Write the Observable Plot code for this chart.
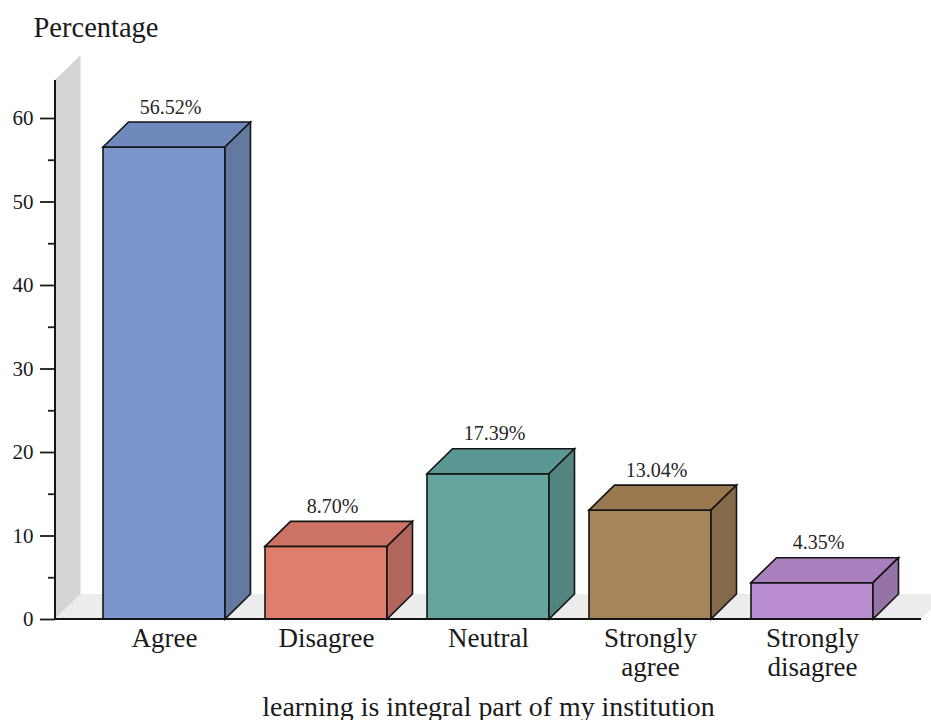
<!DOCTYPE html>
<html>
<head>
<meta charset="utf-8">
<script src="https://cdn.jsdelivr.net/npm/d3@7"></script>
<script src="https://cdn.jsdelivr.net/npm/@observablehq/plot@0.6"></script>
<style>
  html, body { margin: 0; padding: 0; background: #fff; }
  svg { display: block; }
</style>
</head>
<body>
<div id="chart"></div>
<script>
// Survey responses: "learning is integral part of my institution"
const categories = ["Agree", "Disagree", "Neutral", "Strongly agree", "Strongly disagree"];
const percentages = [56.52, 8.70, 17.39, 13.04, 4.35];
const valueLabels = ["56.52%", "8.70%", "17.39%", "13.04%", "4.35%"];
const yTicks = [0, 10, 20, 30, 40, 50, 60];
const yMinorTicks = [5, 15, 25, 35, 45, 55];
const yMax = 64.55;

// Face colours of each box: front, top, side
const frontColors = ["#7b96cb", "#e07e6e", "#66a59e", "#a8845a", "#b98bd0"];
const topColors   = ["#6f89bd", "#cc7366", "#5c9893", "#9a7850", "#a97fbe"];
const sideColors  = ["#64799f", "#b3665b", "#52857f", "#846a4a", "#9573a7"];

const rows = categories.map((category, i) => ({
  category,
  value: percentages[i],
  label: valueLabels[i],
  i
}));

// Depth offset of the pseudo-3D boxes, walls and floor (pixels)
const DX = 25.5, DY = -25;
const EDGE = "#141414";

const poly = (pts) => "M" + pts.map(p => p.join(",")).join("L") + "Z";

// Back wall and floor behind the bars
function backdrop(index, scales, values, dims) {
  const {y} = scales;
  const left = dims.marginLeft, right = dims.width - dims.marginRight;
  const y0 = y(0), yTop = y(yMax);
  const g = d3.create("svg:g");
  g.append("path")
    .attr("d", poly([[left, yTop], [left + DX, yTop + DY], [left + DX, y0 + DY], [left, y0]]))
    .attr("fill", "#d4d4d4");
  g.append("path")
    .attr("d", poly([[left, y0], [left + DX, y0 + DY], [right + DX, y0 + DY], [right, y0]]))
    .attr("fill", "#ececec");
  return g.node();
}

// Axis line and baseline drawn over the bars' bottom edges
function axisLines(index, scales, values, dims) {
  const {y} = scales;
  const left = dims.marginLeft, right = dims.width - dims.marginRight;
  const y0 = y(0), yTop = y(yMax);
  const g = d3.create("svg:g").attr("stroke", EDGE).attr("stroke-width", 2).attr("fill", "none");
  g.append("path").attr("d", `M${left},${yTop}V${y0}`);
  g.append("path").attr("d", `M${left},${y0}H${right}`);
  return g.node();
}

// Front faces come from barY; the top and side faces are added from the same scales
function boxes(index, scales, values, dims, context, next) {
  const node = next(index, scales, values, dims, context);
  const {x, y} = scales;
  const bw = x.bandwidth();
  const g = d3.select(node);
  for (const i of index) {
    const d = rows[i];
    const x0 = x(d.category), x1 = x0 + bw;
    const yb = y(0), yt = y(d.value);
    g.append("path")
      .attr("d", poly([[x0, yt], [x0 + DX, yt + DY], [x1 + DX, yt + DY], [x1, yt]]))
      .attr("fill", topColors[d.i]).attr("stroke", EDGE).attr("stroke-width", 1.6)
      .attr("stroke-linejoin", "miter");
    g.append("path")
      .attr("d", poly([[x1, yt], [x1 + DX, yt + DY], [x1 + DX, yb + DY], [x1, yb]]))
      .attr("fill", sideColors[d.i]).attr("stroke", EDGE).attr("stroke-width", 1.6)
      .attr("stroke-linejoin", "miter");
  }
  return node;
}

const chart = Plot.plot({
  width: 931,
  height: 720,
  marginLeft: 55,
  marginRight: 10,
  marginTop: 80,
  marginBottom: 101,
  style: {
    fontFamily: "'Liberation Serif', 'Times New Roman', serif",
    color: "#1a1a1a",
    background: "#fff",
    overflow: "visible"
  },
  x: {
    type: "band",
    domain: categories,
    range: [80.6, 894.4],
    paddingInner: 0.25,
    paddingOuter: 0.125
  },
  y: {domain: [0, yMax]},
  color: {domain: categories, range: frontColors},
  marks: [
    backdrop,
    Plot.barY(rows, {
      x: "category",
      y: "value",
      fill: "category",
      stroke: EDGE,
      strokeWidth: 1.6,
      render: boxes
    }),
    axisLines,
    Plot.axisY(yTicks, {
      tickSize: 15,
      tickPadding: 7,
      fontSize: 21,
      strokeWidth: 1.8,
      label: null
    }),
    Plot.axisY(yMinorTicks, {
      tickSize: 7,
      tickFormat: () => "",
      strokeWidth: 1.8,
      label: null
    }),
    Plot.axisX({
      tickSize: 0,
      tickPadding: 8,
      fontSize: 27,
      lineHeight: 1.04,
      tickFormat: (d) => d.replace(" ", "\n"),
      label: null
    }),
    Plot.text(rows, {
      x: "category",
      y: "value",
      text: "label",
      dx: 6,
      dy: -34,
      lineAnchor: "bottom",
      fontSize: 20,
      fill: "#262626"
    }),
    Plot.text(["Percentage"], {
      frameAnchor: "top-left",
      textAnchor: "start",
      lineAnchor: "bottom",
      dx: -22,
      dy: -44,
      fontSize: 28.5
    }),
    Plot.text(["learning is integral part of my institution"], {
      frameAnchor: "bottom",
      lineAnchor: "bottom",
      dy: 96,
      fontSize: 27.9
    })
  ]
});

document.getElementById("chart").appendChild(chart);
</script>
</body>
</html>
